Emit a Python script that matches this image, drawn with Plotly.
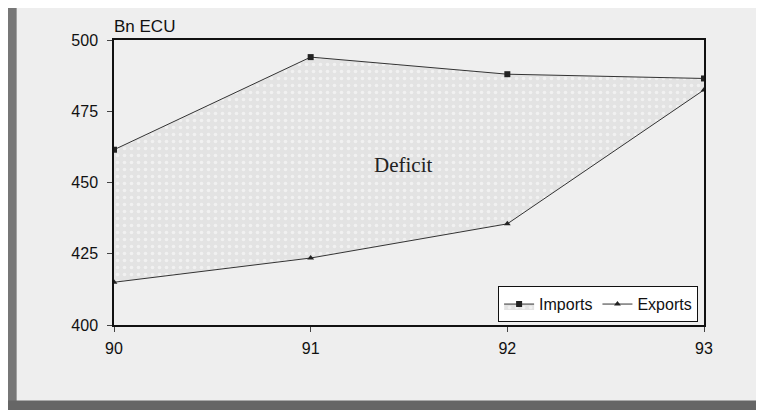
import plotly.graph_objects as go

years = [90, 91, 92, 93]
imports = [461.5, 494, 488, 486.5]
exports = [415, 423.5, 435.5, 482.5]

FONT = 'Liberation Sans, Arial'

fig = go.Figure()

# exports first so imports can fill down to it
fig.add_trace(go.Scatter(x=years, y=exports, name='Exports', mode='lines+markers',
                         line={'color': '#333333', 'width': 1},
                         marker={'symbol': 'triangle-up', 'size': 6, 'color': '#222222'}))
fig.add_trace(go.Scatter(x=years, y=imports, name='Imports', mode='lines+markers',
                         line={'color': '#333333', 'width': 1},
                         marker={'symbol': 'square', 'size': 6, 'color': '#222222'},
                         fill='tonexty', fillcolor='#e2e2e2',
                         fillpattern={'shape': '.', 'fgcolor': 'white', 'bgcolor': '#e3e3e3',
                                      'size': 7, 'solidity': 0.2}))

fig.add_annotation(x=91.47, y=456, text='Deficit', showarrow=False,
                   font={'family': 'Liberation Serif', 'size': 21, 'color': '#222222'})
fig.add_annotation(x=0, y=1, xref='paper', yref='paper', xanchor='left', yanchor='bottom',
                   text='Bn ECU', showarrow=False, yshift=2, xshift=-2,
                   font={'family': FONT, 'size': 17, 'color': '#111111'})

# scanned page edges
fig.add_shape(type='rect', xref='paper', yref='paper', x0=-0.185, x1=-0.165, y0=-0.3, y1=1.2,
              fillcolor='#777777', line={'width': 0}, layer='below')
fig.add_shape(type='rect', xref='paper', yref='paper', x0=-0.185, x1=1.2, y0=-0.3, y1=-0.265,
              fillcolor='#666666', line={'width': 0}, layer='below')

fig.update_xaxes(range=[90, 93], tickvals=years, ticks='outside', ticklen=5, ticklabelstandoff=3,
                 showline=True, linecolor='#111111', linewidth=1.5, mirror=True,
                 showgrid=False, zeroline=False,
                 tickfont={'family': FONT, 'size': 16, 'color': '#111111'})
fig.update_yaxes(range=[400, 500], tickvals=[400, 425, 450, 475, 500], ticks='outside', ticklen=5,
                 ticklabelstandoff=6,
                 showline=True, linecolor='#111111', linewidth=1.5, mirror=True,
                 showgrid=False, zeroline=False,
                 tickfont={'family': FONT, 'size': 16, 'color': '#111111'})

fig.update_layout(width=764, height=410, margin={'l': 106, 'r': 68, 't': 32, 'b': 93},
                  paper_bgcolor='#eeeeee', plot_bgcolor='#efefef', showlegend=True,
                  legend={'orientation': 'h', 'x': 0.99, 'y': 0.01, 'xanchor': 'right', 'yanchor': 'bottom',
                          'bgcolor': 'white', 'bordercolor': '#111111', 'borderwidth': 1,
                          'traceorder': 'reversed', 'itemwidth': 30, 'tracegroupgap': 0,
                          'font': {'family': FONT, 'size': 16, 'color': '#111111'}})

fig.write_html("out.html")
